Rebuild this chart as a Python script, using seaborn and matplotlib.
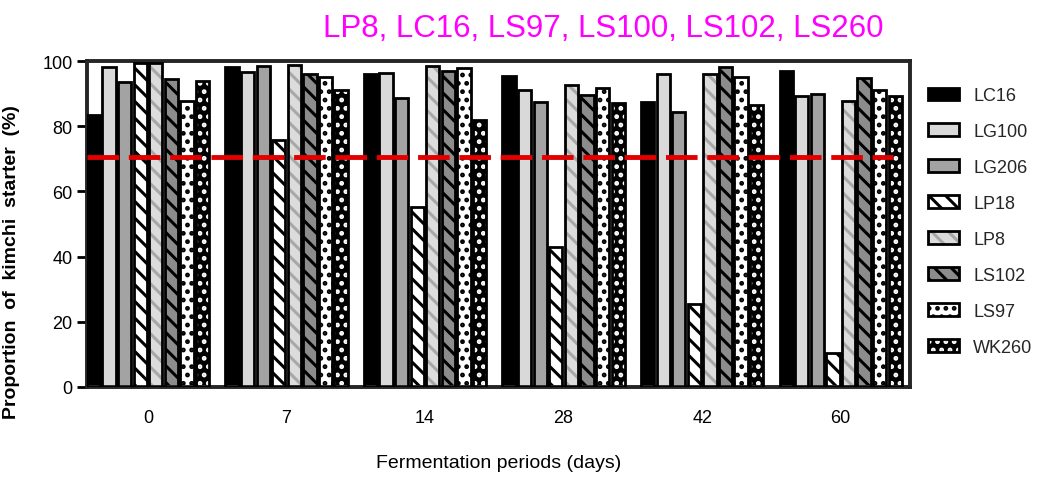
import numpy as np
import pandas as pd
import matplotlib
matplotlib.use("Agg")
import matplotlib.pyplot as plt
from matplotlib.patches import Patch, Rectangle
import seaborn as sns

# === Data ===
days = ["0", "7", "14", "28", "42", "60"]
strains = ["LC16", "LG100", "LG206", "LP18", "LP8", "LS102", "LS97", "WK260"]

lc16 = [83.4, 98.2, 96.0, 95.4, 87.4, 97.0]
lg100 = [98.2, 96.6, 96.3, 91.0, 96.0, 89.3]
lg206 = [93.6, 98.5, 88.7, 87.4, 84.4, 89.9]
lp18 = [99.4, 75.8, 55.2, 43.0, 25.5, 10.4]
lp8 = [99.4, 98.8, 98.5, 92.6, 96.0, 87.7]
ls102 = [94.5, 96.0, 97.0, 89.6, 98.2, 94.8]
ls97 = [87.7, 95.0, 98.0, 91.7, 95.0, 91.0]
wk260 = [93.9, 91.0, 81.9, 87.1, 86.5, 89.3]

threshold = 70.5

values = [lc16, lg100, lg206, lp18, lp8, ls102, ls97, wk260]
rows = []
for name, vals in zip(strains, values):
    for d, v in zip(days, vals):
        rows.append({"day": d, "strain": name, "value": v})
df = pd.DataFrame(rows)

# fill colour, hatch pattern, hatch colour
styles = {
    "LC16": ("#000000", "", "#000000"),
    "LG100": ("#d9d9d9", "", "#000000"),
    "LG206": ("#a3a3a3", "", "#000000"),
    "LP18": ("#ffffff", "\\\\", "#000000"),
    "LP8": ("#dcdcdc", "\\\\", "#a8a8a8"),
    "LS102": ("#8c8c8c", "\\\\", "#000000"),
    "LS97": ("#ffffff", "..", "#000000"),
    "WK260": ("#000000", "..", "#ffffff"),
}

sns.set_style("ticks")
plt.rcParams["hatch.linewidth"] = 2.2
plt.rcParams["font.family"] = ["Liberation Sans", "DejaVu Sans"]

fig = plt.figure(figsize=(10.51, 4.85), dpi=100)
ax = fig.add_axes([0.0828, 0.2, 0.783, 0.672])

sns.barplot(data=df, x="day", y="value", hue="strain", order=days, hue_order=strains,
            palette={s: styles[s][0] for s in strains}, width=0.9, gap=0.15,
            edgecolor="black", linewidth=2, legend=False, ax=ax, zorder=2)

for name, cont in zip(strains, ax.containers):
    fc, hatch, hc = styles[name]
    for bar in cont:
        bar.set_hatch(hatch)
        bar.set_edgecolor(hc)
        bar.set_linewidth(0)
        ax.add_patch(Rectangle(bar.get_xy(), bar.get_width(), bar.get_height(),
                               fill=False, edgecolor="black", linewidth=2, zorder=3))

ax.axhline(threshold, xmin=0, xmax=0.98, color="#e00000", linewidth=3.5,
           linestyle=(0, (6.5, 2)), zorder=5)

ax.set_xlim(-0.44, 5.5)
ax.set_ylim(0, 100)
ax.set_yticks([0, 20, 40, 60, 80, 100])
for s in ax.spines.values():
    s.set_linewidth(2.8)
    s.set_visible(True)
ax.tick_params(axis="y", width=2, length=7, labelsize=13, colors="black")
ax.tick_params(axis="x", length=0, pad=16, labelsize=13, colors="black")

ax.set_xlabel("Fermentation periods (days)", fontsize=14, labelpad=20, color="black")
ax.set_ylabel("Proportion  of  kimchi  starter  (%)", fontsize=14, fontweight="bold",
              color="black")
ax.yaxis.set_label_coords(-0.081, 0.385)

handles = []
for name in strains:
    fc, hatch, hc = styles[name]
    handles.append((Patch(facecolor=fc, hatch=hatch, edgecolor=hc, linewidth=0),
                    Patch(fill=False, edgecolor="black", linewidth=2)))
ax.legend(handles, strains, loc="upper left", bbox_to_anchor=(1.022, 0.92),
          frameon=False, fontsize=13, handlelength=1.7, handleheight=0.7,
          labelspacing=1.05, handletextpad=0.8, borderaxespad=0, borderpad=0)

fig.text(0.307, 0.972, "LP8, LC16, LS97, LS100, LS102, LS260", color="#ff00ff",
         fontsize=22.5, ha="left", va="top")

fig.savefig("out.png", dpi=100)
